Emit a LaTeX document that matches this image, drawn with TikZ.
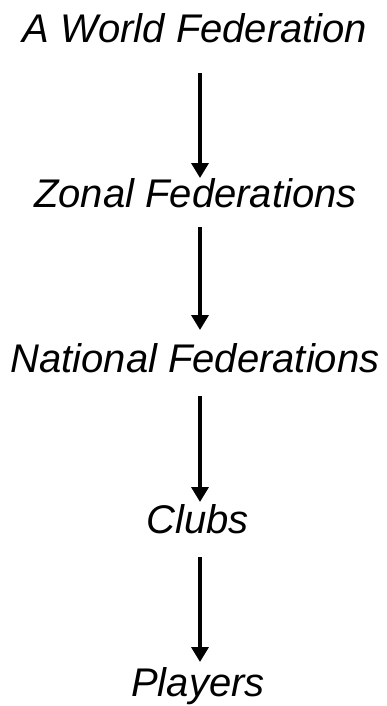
\documentclass[tikz,border=0pt]{standalone}
\usepackage{fontspec}
\setmainfont{Liberation Sans}
\usetikzlibrary{arrows.meta}
\tikzset{
  lbl/.style={anchor=base, inner sep=0pt, outer sep=0pt, text height=28pt, text depth=0pt,
    font=\fontsize{40}{40}\selectfont\itshape},
  arr/.style={line width=3.6pt, -{Triangle[width=17pt,length=15pt]}}
}
\begin{document}
\begin{tikzpicture}[x=1pt,y=-1pt]
\useasboundingbox (0,0) rectangle (387,706);
\node[lbl] (a) at (195,43) {A World Federation};
\node[lbl] (b) at (195.5,207) {Zonal Federations};
\node[lbl] (c) at (195,372) {National Federations};
\node[lbl] (d) at (197.5,533) {Clubs};
\node[lbl] (e) at (198,696) {Players};
\draw[arr] ([xshift=5pt,yshift=-30pt]a.south) -- ([xshift=4.5pt,yshift=1pt]b.north);
\draw[arr] ([xshift=4.5pt,yshift=-20pt]b.south) -- ([xshift=5pt,yshift=14pt]c.north);
\draw[arr] ([xshift=5pt,yshift=-24pt]c.south) -- ([xshift=2.5pt,yshift=3pt]d.north);
\draw[arr] ([xshift=2.5pt,yshift=-24pt]d.south) -- ([xshift=2pt,yshift=6pt]e.north);
\end{tikzpicture}
\end{document}
